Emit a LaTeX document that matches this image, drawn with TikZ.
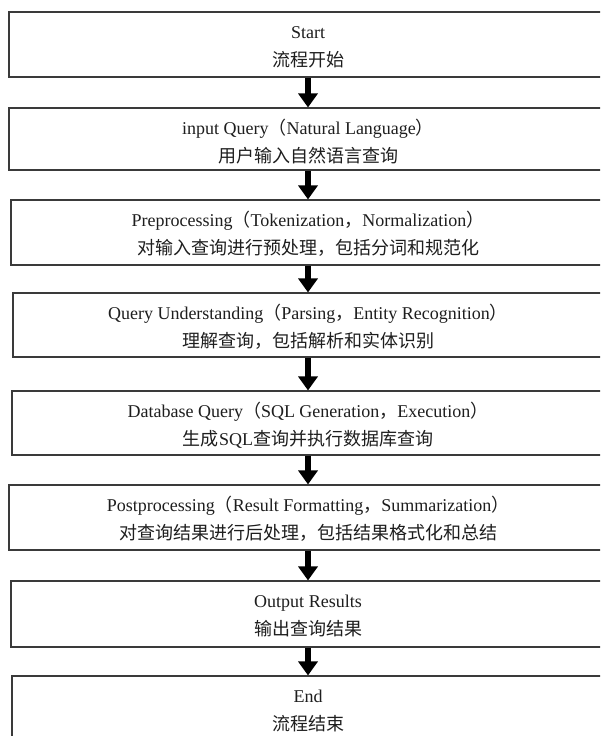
\documentclass[tikz,border=0pt]{standalone}
\usepackage{fontspec}
\setmainfont{Liberation Serif}
\newfontfamily\cjk{Noto Sans CJK SC}
\usetikzlibrary{arrows.meta}
\definecolor{boxline}{HTML}{3A3A3A}
\definecolor{txt}{HTML}{1E1E1E}
\newcommand{\fw}[1]{{\cjk #1}}
\begin{document}
\begin{tikzpicture}[x=1pt,y=-1pt,
  box/.style={draw=boxline, line width=1.1pt, fill=white, inner sep=0pt},
  lineA/.style={anchor=base, inner sep=0pt, text=txt, font=\fontsize{18}{22}\selectfont, yshift=-27pt},
  lineB/.style={anchor=base, inner sep=0pt, text=txt, font=\fontsize{18}{22}\selectfont\cjk, yshift=-55.5pt},
  arr/.style={line width=6pt, -{Triangle[width=19pt,length=14pt]}}]
\useasboundingbox (0,0) rectangle (600,736);
\clip (0,0) rectangle (600,736);
\coordinate (ax) at (308,0);
% boxes
\node[box, minimum width=599pt, minimum height=65pt] (b1) at (308.5,44.5) {};
\node[box, minimum width=599pt, minimum height=62pt] (b2) at (308.5,139) {};
\node[box, minimum width=597pt, minimum height=65pt] (b3) at (309.5,232.5) {};
\node[box, minimum width=595pt, minimum height=64pt] (b4) at (310.5,325) {};
\node[box, minimum width=596pt, minimum height=64pt] (b5) at (310,423) {};
\node[box, minimum width=599pt, minimum height=65pt] (b6) at (308.5,517.5) {};
\node[box, minimum width=597pt, minimum height=66pt] (b7) at (309.5,614) {};
\node[box, minimum width=596pt, minimum height=65pt] (b8) at (310,708.5) {};
% texts
\node[lineA] (t1a) at (b1.north -| ax) {Start};
\node[lineB] (t1b) at (b1.north -| ax) {流程开始};
\node[lineA] (t2a) at (b2.north -| ax) {input Query\fw{（}Natural Language\fw{）}};
\node[lineB] (t2b) at (b2.north -| ax) {用户输入自然语言查询};
\node[lineA] (t3a) at (b3.north -| ax) {Preprocessing\fw{（}Tokenization\fw{，}Normalization\fw{）}};
\node[lineB] (t3b) at (b3.north -| ax) {对输入查询进行预处理，包括分词和规范化};
\node[lineA] (t4a) at (b4.north -| ax) {Query Understanding\fw{（}Parsing\fw{，}Entity Recognition\fw{）}};
\node[lineB] (t4b) at (b4.north -| ax) {理解查询，包括解析和实体识别};
\node[lineA] (t5a) at (b5.north -| ax) {Database Query\fw{（}SQL Generation\fw{，}Execution\fw{）}};
\node[lineB] (t5b) at (b5.north -| ax) {生成{\rmfamily SQL}查询并执行数据库查询};
\node[lineA] (t6a) at (b6.north -| ax) {Postprocessing\fw{（}Result Formatting\fw{，}Summarization\fw{）}};
\node[lineB] (t6b) at (b6.north -| ax) {对查询结果进行后处理，包括结果格式化和总结};
\node[lineA] (t7a) at (b7.north -| ax) {Output Results};
\node[lineB] (t7b) at (b7.north -| ax) {输出查询结果};
\node[lineA] (t8a) at (b8.north -| ax) {End};
\node[lineB] (t8b) at (b8.north -| ax) {流程结束};
% arrows
\foreach \a/\b in {b1/b2,b2/b3,b3/b4,b4/b5,b5/b6,b6/b7,b7/b8}
  \draw[arr] (\a.south -| ax) -- (\b.north -| ax);
\end{tikzpicture}
\end{document}
